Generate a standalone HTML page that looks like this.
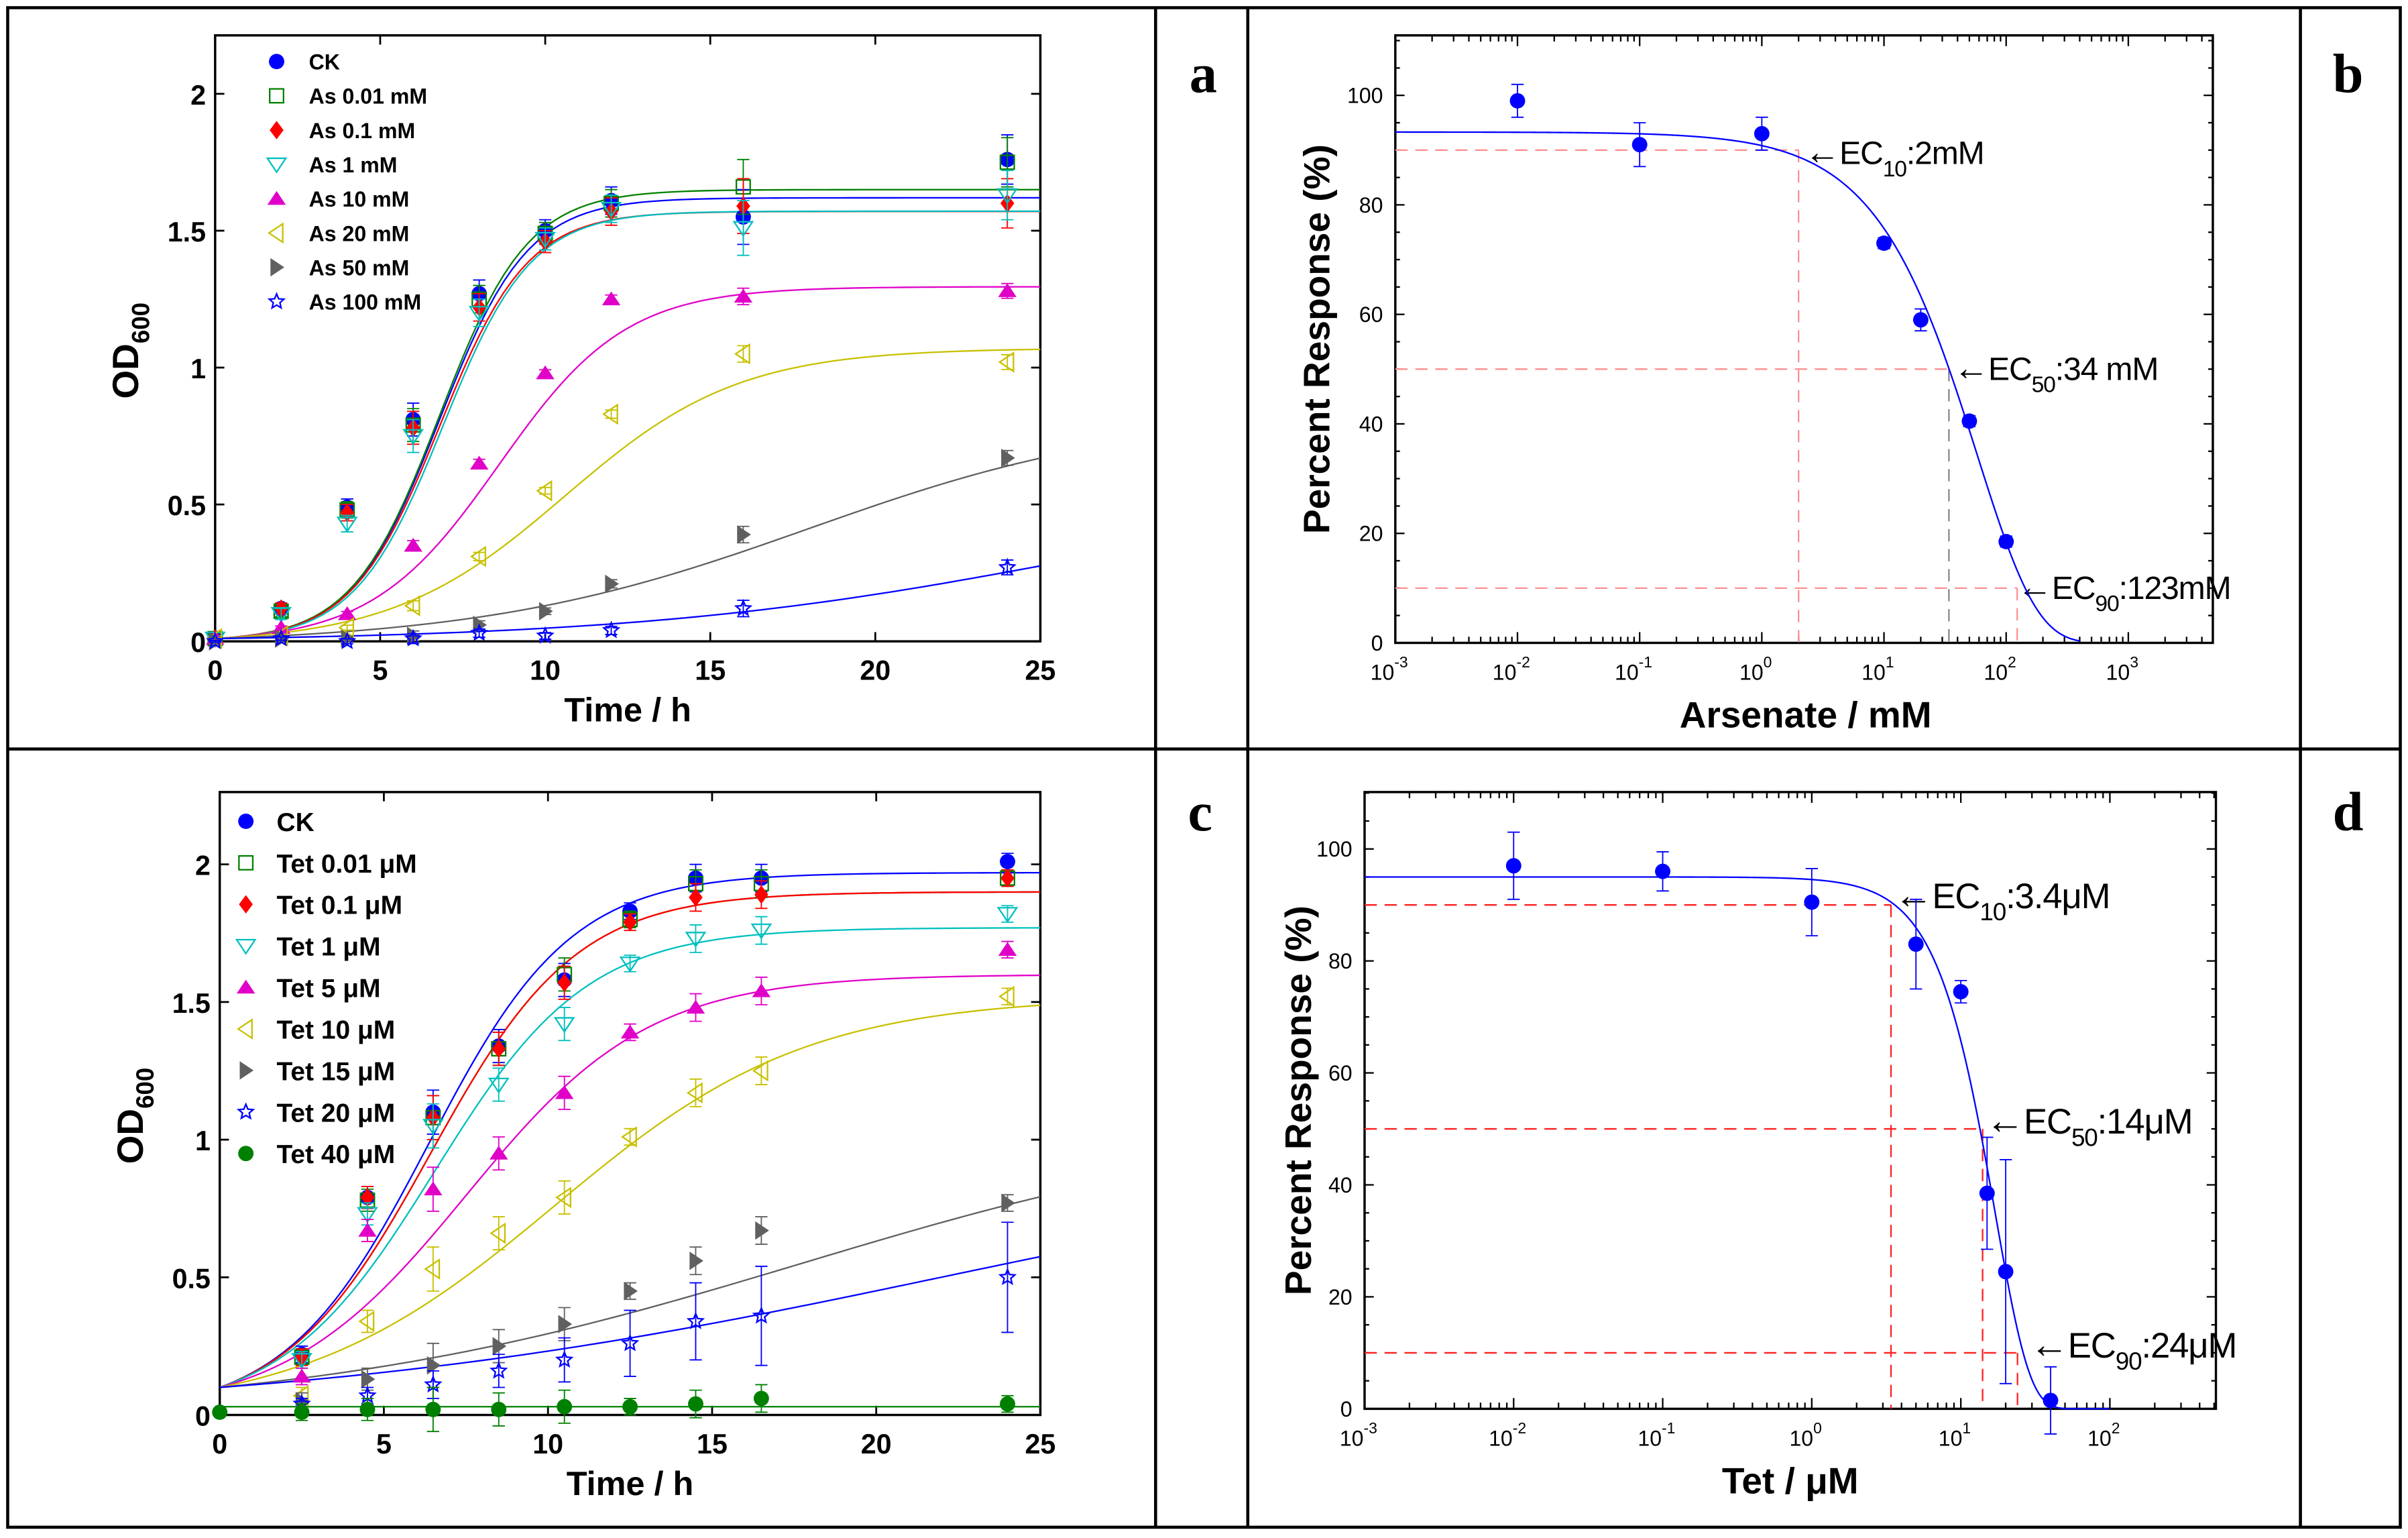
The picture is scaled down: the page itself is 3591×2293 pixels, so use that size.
<!DOCTYPE html>
<html><head><meta charset="utf-8"><style>
html,body{margin:0;padding:0;background:#fff;}
svg{display:block;font-family:"Liberation Sans",Arial,sans-serif;}
</style></head><body>
<svg id="fig" width="3591" height="2293" viewBox="0 0 1567 1000" preserveAspectRatio="none">
<rect x="0" y="0" width="1567" height="1000" fill="#fff"/>
<g stroke="#000" stroke-width="2" fill="none">
<rect x="5" y="5" width="1557" height="988"/>
<line x1="752" y1="5" x2="752" y2="993"/>
<line x1="812" y1="5" x2="812" y2="993"/>
<line x1="1497" y1="5" x2="1497" y2="993"/>
<line x1="5" y1="487" x2="1562" y2="487"/>
</g>
<text x="783" y="60" font-family="Liberation Serif,serif" font-weight="bold" font-size="36" text-anchor="middle">a</text>
<text x="1528" y="60" font-family="Liberation Serif,serif" font-weight="bold" font-size="36" text-anchor="middle">b</text>
<text x="781" y="540" font-family="Liberation Serif,serif" font-weight="bold" font-size="36" text-anchor="middle">c</text>
<text x="1528" y="540" font-family="Liberation Serif,serif" font-weight="bold" font-size="36" text-anchor="middle">d</text>
</svg>
<script>
// ---------- Panel a data ----------
const timesA = [0,2,4,6,8,10,12,16,24];
const labelsA = ["CK","As 0.01 mM","As 0.1 mM","As 1 mM","As 10 mM","As 20 mM","As 50 mM","As 100 mM"];
const odA_CK   = [0.01,0.12,0.49,0.81,1.27,1.50,1.61,1.55,1.76];
const odA_001  = [0.01,0.11,0.48,0.79,1.25,1.49,1.60,1.66,1.75];
const odA_01   = [0.01,0.12,0.47,0.78,1.22,1.46,1.57,1.59,1.60];
const odA_1    = [0.01,0.10,0.43,0.75,1.20,1.47,1.58,1.51,1.63];
const odA_10   = [0.01,0.05,0.10,0.35,0.65,0.98,1.25,1.26,1.28];
const odA_20   = [0.01,0.02,0.05,0.13,0.31,0.55,0.83,1.05,1.02];
const odA_50   = [0.00,0.01,0.01,0.02,0.06,0.11,0.21,0.39,0.67];
const odA_100  = [0.00,0.01,0.00,0.01,0.03,0.02,0.04,0.12,0.27];
const errA     = [0.01,0.02,0.03,0.06,0.05,0.04,0.05,0.10,0.09];
const fitKA    = [1.62,1.65,1.57,1.57,1.30,1.08,0.85,0.60];
const fitRA    = [0.75,0.75,0.75,0.75,0.52,0.38,0.20,0.15];
const fitT0A   = [6.8,6.8,6.8,6.9,8.6,10.6,18,26];
// ---------- Panel c data ----------
const timesC = [2.5,4.5,6.5,8.5,10.5,12.5,14.5,16.5,24];
const labelsC = ["CK","Tet 0.01 \u03bcM","Tet 0.1 \u03bcM","Tet 1 \u03bcM","Tet 5 \u03bcM","Tet 10 \u03bcM","Tet 15 \u03bcM","Tet 20 \u03bcM","Tet 40 \u03bcM"];
const odC_CK  = [0.22,0.79,1.10,1.34,1.58,1.83,1.95,1.95,2.01];
const odC_001 = [0.21,0.78,1.08,1.33,1.60,1.80,1.93,1.93,1.95];
const odC_01  = [0.21,0.79,1.08,1.33,1.57,1.79,1.88,1.89,1.95];
const odC_1   = [0.20,0.73,1.05,1.20,1.42,1.64,1.73,1.76,1.82];
const odC_5   = [0.14,0.67,0.82,0.95,1.17,1.39,1.48,1.54,1.69];
const odC_10  = [0.07,0.34,0.53,0.66,0.79,1.01,1.17,1.25,1.52];
const odC_15  = [0.05,0.13,0.18,0.25,0.33,0.45,0.56,0.67,0.77];
const odC_20  = [0.04,0.07,0.11,0.16,0.20,0.26,0.34,0.36,0.50];
const odC_40  = [0.01,0.02,0.02,0.02,0.03,0.03,0.04,0.06,0.04];
const errC    = [0.03,0.04,0.08,0.06,0.06,0.03,0.05,0.05,0.03];
const errC20  = [0.02,0.03,0.05,0.06,0.08,0.12,0.14,0.18,0.20];
const fitKC   = [1.97,1.90,1.90,1.77,1.60,1.52,1.10,1.00,0.03];
const fitRC   = [0.46,0.45,0.45,0.43,0.36,0.26,0.13,0.10,0];
// ---------- Panel b data ----------
const doseB = [0.01,0.1,1,10,20,50,100];
const respB = [99,91,93,73,59,40.5,18.5];
const errB  = [3,4,3,1,2,1,1];
const fitB  = [93.3,58,0.89]; // top, scale, shape
const ecB   = [2,34,123];
const ecLevelsB = [90,50,10];
const ecTextB = [["EC","10",":2mM"],["EC","50",":34 mM"],["EC","90",":123mM"]];
// ---------- Panel d data ----------
const doseD = [0.01,0.1,1,5,10,15,20,40];
const respD = [97,96,90.5,83,74.5,38.5,24.5,1.5];
const errD  = [6,3.5,6,8,2,10,20,6];
const fitD  = [95,14,1.88];
const ecD   = [3.4,14,24];
const ecLevelsD = [90,50,10];
const ecTextD = [["EC","10",":3.4\u03bcM"],["EC","50",":14\u03bcM"],["EC","90",":24\u03bcM"]];

const svg = document.getElementById('fig');
const NS = 'http://www.w3.org/2000/svg';
function el(tag, attrs, parent){ const e=document.createElementNS(NS,tag); for(const k in attrs) e.setAttribute(k,attrs[k]); (parent||svg).appendChild(e); return e; }

function marker(g, type, x, y, c, s){
  s = s||5; let m;
  if(type==='circle'||type==='gcircle') m=el('circle',{cx:x,cy:y,r:s,fill:c},g);
  else if(type==='square') m=el('rect',{x:x-s+0.5,y:y-s+0.5,width:2*s-1,height:2*s-1,fill:'none',stroke:c,'stroke-width':1},g);
  else if(type==='diamond') m=el('polygon',{points:`${x},${y-s-1} ${x+s-0.5},${y} ${x},${y+s+1} ${x-s+0.5},${y}`,fill:c},g);
  else if(type==='dtri') m=el('polygon',{points:`${x-s-1},${y-s+1} ${x+s+1},${y-s+1} ${x},${y+s}`,fill:'none',stroke:c,'stroke-width':1},g);
  else if(type==='utri') m=el('polygon',{points:`${x-s-1},${y+s-1} ${x+s+1},${y+s-1} ${x},${y-s}`,fill:c},g);
  else if(type==='ltri') m=el('polygon',{points:`${x+s-1},${y-s-1} ${x+s-1},${y+s+1} ${x-s},${y}`,fill:'none',stroke:c,'stroke-width':1},g);
  else if(type==='rtri') m=el('polygon',{points:`${x-s+1},${y-s-1} ${x-s+1},${y+s+1} ${x+s},${y}`,fill:c},g);
  else if(type==='star'){ let p=[]; for(let i=0;i<10;i++){const r=i%2?s*0.45:s; const a=-Math.PI/2+i*Math.PI/5; p.push((x+r*Math.cos(a)).toFixed(2)+','+(y+r*Math.sin(a)).toFixed(2));} m=el('polygon',{points:p.join(' '),fill:'none',stroke:c,'stroke-width':1},g);}
  
  
  return m;
}

function axesBox(x0,y0,x1,y1,name){
  const r=el('rect',{x:x0,y:y0,width:x1-x0,height:y1-y0,fill:'none',stroke:'#000','stroke-width':1.5});
  
  
}
function txt(x,y,s,attrs,name){
  const t=el('text',Object.assign({x:x,y:y},attrs)); t.textContent=s;
  
  
  return t;
}

// ================= Growth panels (a, c) =================
function growthPanel(cfg){
  const {X0,X1,Y0,Ytop,yPerUnit} = cfg;
  const sx = t => X0 + t*(X1-X0)/25;
  const sy = v => Y0 - v*yPerUnit;
  axesBox(X0,Ytop,X1,Y0,cfg.name+'-axes');
  const tg=el('g',{stroke:'#000','stroke-width':1.2});
  
  
  [0,5,10,15,20,25].forEach(t=>{
    el('line',{x1:sx(t),y1:Y0,x2:sx(t),y2:Y0-6},tg); el('line',{x1:sx(t),y1:Ytop,x2:sx(t),y2:Ytop+6},tg);
    txt(sx(t),Y0+25,String(t),{'font-size':18,'font-weight':'bold','text-anchor':'middle'},'x-tick-label');
  });
  [0,0.5,1,1.5,2].forEach(v=>{
    el('line',{x1:X0,y1:sy(v),x2:X0+6,y2:sy(v)},tg); el('line',{x1:X1,y1:sy(v),x2:X1-6,y2:sy(v)},tg);
    txt(X0-6,sy(v)+7,String(v),{'font-size':18,'font-weight':'bold','text-anchor':'end'},'y-tick-label');
  });
  txt((X0+X1)/2,Y0+52,'Time / h',{'font-size':22,'font-weight':'bold','text-anchor':'middle'},'x-axis-title');
  const yt=el('text',{x:0,y:0,transform:`translate(${X0-50},${(Ytop+Y0)/2+8}) rotate(-90)`,'font-size':24,'font-weight':'bold','text-anchor':'middle'});
  
  
  yt.innerHTML='OD<tspan font-size="16" dy="7">600</tspan>';
  cfg.series.forEach((s,i)=>{
    let p=[]; for(let t=0;t<=25.001;t+=0.25){ p.push(sx(t).toFixed(2)+','+sy(cfg.fit(i,t)).toFixed(2)); }
    const pl=el('polyline',{points:p.join(' '),fill:'none',stroke:s.lc||s.c,'stroke-width':1});
    
    
  });
  cfg.series.forEach((s,i)=>{
    const g=el('g',{});
    
    
    s.data.forEach((v,j)=>{
      const x=sx(cfg.times[j]), y=sy(v), e=s.err[j]*yPerUnit;
      el('line',{x1:x,y1:y-e,x2:x,y2:y+e,stroke:s.c,'stroke-width':0.8},g);
      el('line',{x1:x-4,y1:y-e,x2:x+4,y2:y-e,stroke:s.c,'stroke-width':0.8},g);
      el('line',{x1:x-4,y1:y+e,x2:x+4,y2:y+e,stroke:s.c,'stroke-width':0.8},g);
      marker(g,s.m,x,y,s.c,cfg.ms);
    });
  });
  const lg=el('g',{});
  
  
  cfg.series.forEach((s,i)=>{
    const y=cfg.legY+i*cfg.legDy;
    marker(lg,s.m,cfg.legX,y,s.c,cfg.ms);
    const t=el('text',{x:cfg.legX+cfg.legTx,y:y+cfg.legFs*0.37,'font-size':cfg.legFs,'font-weight':'bold'},lg);
    
    
    t.textContent=cfg.labels[i];
  });
}

const seriesA=[
 {data:odA_CK,c:'#0000ff',m:'circle'},{data:odA_001,c:'#008000',m:'square'},{data:odA_01,c:'#ff0000',m:'diamond'},
 {data:odA_1,c:'#00bfbf',m:'dtri'},{data:odA_10,c:'#e000c8',m:'utri'},{data:odA_20,c:'#c8c000',m:'ltri'},
 {data:odA_50,c:'#606060',m:'rtri'},{data:odA_100,c:'#0000ff',m:'star'}];
seriesA.forEach((s,i)=>s.err=errA.map((e,j)=>e*(i<4?1:0.3)));
growthPanel({name:'panel-a',X0:140,X1:677,Y0:417,Ytop:23,yPerUnit:178,times:timesA,series:seriesA,labels:labelsA,
  fit:(i,t)=>0.01+fitKA[i]/(1+Math.exp(-fitRA[i]*(t-fitT0A[i])))-fitKA[i]/(1+Math.exp(fitRA[i]*fitT0A[i])),
  legX:180,legY:40,legDy:22.3,legTx:21,legFs:14,ms:5});

const seriesC=[
 {data:odC_CK,c:'#0000ff',m:'circle'},{data:odC_001,c:'#008000',m:'square'},{data:odC_01,c:'#ff0000',m:'diamond'},
 {data:odC_1,c:'#00bfbf',m:'dtri'},{data:odC_5,c:'#e000c8',m:'utri'},{data:odC_10,c:'#c8c000',m:'ltri'},
 {data:odC_15,c:'#606060',m:'rtri'},{data:odC_20,c:'#0000ff',m:'star'},{data:odC_40,c:'#008000',m:'gcircle',lc:'#008000'}];
seriesC.forEach((s,i)=>s.err=(i===7?errC20:errC));
growthPanel({name:'panel-c',X0:143,X1:677,Y0:920,Ytop:515,yPerUnit:179,times:timesC,series:seriesC,labels:labelsC,
  fit:(i,t)=>{ if(fitRC[i]===0) return fitKC[i]; const K=fitKC[i]; return K/(1+((K-0.1)/0.1)*Math.exp(-fitRC[i]*t)); },
  legX:160,legY:534,legDy:27,legTx:20,legFs:17,ms:5});
marker(svg,'gcircle',143,920-0.01*179,'#008000',5);

// ================= Dose-response panels (b, d) =================
function dosePanel(cfg){
  const {X0,X1,Y0,Ytop,lx0,pxDec,yScale} = cfg;
  const sx = d => X0 + (Math.log10(d)-lx0)*pxDec;
  const sy = v => Y0 - v*yScale;
  axesBox(X0,Ytop,X1,Y0,cfg.name+'-axes');
  const tg=el('g',{stroke:'#000','stroke-width':1});
  
  
  const lmax=(X1-X0)/pxDec+lx0;
  for(let e=lx0;e<=lmax;e++){
    for(let k=1;k<10;k++){ const lv=e+Math.log10(k); if(lv>lmax) break;
      const x=X0+(lv-lx0)*pxDec, L=k===1?7:4;
      el('line',{x1:x,y1:Y0,x2:x,y2:Y0-L},tg); el('line',{x1:x,y1:Ytop,x2:x,y2:Ytop+L},tg);
    }
    if(e<=cfg.lastLabel){
      const t=el('text',{x:X0+(e-lx0)*pxDec-4,y:Y0+24,'font-size':14,'text-anchor':'middle',stroke:'none'});
      
      
      t.innerHTML='10<tspan font-size="10" dy="-8">'+e+'</tspan>';
    }
  }
  [0,20,40,60,80,100].forEach(v=>{
    el('line',{x1:X0,y1:sy(v),x2:X0+6,y2:sy(v)},tg); el('line',{x1:X1,y1:sy(v),x2:X1-6,y2:sy(v)},tg);
    for(let m=1;m<4;m++){ if(v+5*m<=110){ el('line',{x1:X0,y1:sy(v+5*m),x2:X0+3,y2:sy(v+5*m)},tg); el('line',{x1:X1,y1:sy(v+5*m),x2:X1-3,y2:sy(v+5*m)},tg);} }
    txt(X0-8,sy(v)+5,String(v),{'font-size':14,'text-anchor':'end'},'y-tick-label');
  });
  txt(cfg.xtX,Y0+55,cfg.xTitle,{'font-size':24,'font-weight':'bold','text-anchor':'middle'},'x-axis-title');
  const yt=el('text',{x:0,y:0,transform:`translate(${X0-cfg.ytDx},${(Ytop+Y0)/2}) rotate(-90)`,'font-size':24,'font-weight':'bold','text-anchor':'middle'});
  
  
  yt.textContent='Percent Response (%)';
  cfg.ec.forEach((d,i)=>{
    const x=sx(d), y=sy(cfg.levels[i]);
    const h=el('line',{x1:X0,y1:y,x2:x,y2:y,stroke:cfg.dashC,'stroke-width':1,'stroke-dasharray':'8,5'});
    
    
    const v=el('line',{x1:x,y1:y,x2:x,y2:Y0,stroke:(i===1&&cfg.name==='panel-b')?'#888':cfg.dashC,'stroke-width':1,'stroke-dasharray':'8,5'});
    
    
    const t=el('text',{x:x+cfg.annDx[i],y:y+cfg.annDy[i],'font-size':cfg.annFs,'letter-spacing':'-0.5'});
    
    
    t.innerHTML='<tspan font-size="'+(cfg.annFs*1.1)+'">\u2190</tspan>'+cfg.ecText[i][0]+'<tspan font-size="'+(cfg.annFs*0.7)+'" dy="8">'+cfg.ecText[i][1]+'</tspan><tspan dy="-8">'+cfg.ecText[i][2]+'</tspan>';
  });
  let p=[]; const fe=cfg.fitEnd;
  for(let lv=lx0; lv<=fe; lv+=0.01){ const d=Math.pow(10,lv); p.push(sx(d).toFixed(2)+','+sy(cfg.fit(d)).toFixed(2)); }
  const pl=el('polyline',{points:p.join(' '),fill:'none',stroke:'#0000ff','stroke-width':1});
  
  
  const g=el('g',{});
  
  
  cfg.dose.forEach((d,j)=>{
    const x=sx(d), y=sy(cfg.resp[j]), e=cfg.err[j]*yScale;
    el('line',{x1:x,y1:y-e,x2:x,y2:y+e,stroke:'#0000ff','stroke-width':0.8},g);
    el('line',{x1:x-4,y1:y-e,x2:x+4,y2:y-e,stroke:'#0000ff','stroke-width':0.8},g);
    el('line',{x1:x-4,y1:y+e,x2:x+4,y2:y+e,stroke:'#0000ff','stroke-width':0.8},g);
    marker(g,'circle',x,y,'#0000ff',5);
  });
}
dosePanel({name:'panel-b',X0:908,X1:1440,Y0:418,Ytop:23,lx0:-3,pxDec:79.5,yScale:3.56,lastLabel:3,ytDx:43,
  xTitle:'Arsenate / mM',xtX:1175,dose:doseB,resp:respB,err:errB,ec:ecB,levels:ecLevelsB,ecText:ecTextB,
  fit:d=>fitB[0]*Math.exp(-Math.pow(d/fitB[1],fitB[2])),fitEnd:Math.log10(400),dashC:'#ff9090',
  annDx:[4,3,0],annDy:[9,7,7],annFs:21});
dosePanel({name:'panel-d',X0:888,X1:1442,Y0:916,Ytop:515,lx0:-3,pxDec:97,yScale:3.64,lastLabel:2,ytDx:35,
  xTitle:'Tet / \u03bcM',xtX:1165,dose:doseD,resp:respD,err:errD,ec:ecD,levels:ecLevelsD,ecText:ecTextD,
  fit:d=>fitD[0]*Math.exp(-Math.LN2*Math.pow(d/fitD[1],fitD[2])),fitEnd:2,dashC:'#ff2020',
  annDx:[2,2,8],annDy:[2,3,3],annFs:23});
</script>
</body></html>
